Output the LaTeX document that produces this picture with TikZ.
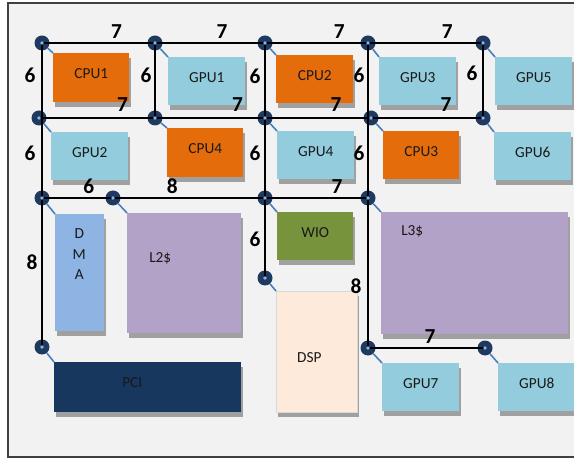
\documentclass[tikz,border=0pt]{standalone}
\usepackage{fontspec}
\setmainfont{Carlito}
\usetikzlibrary{positioning}

\newlength\pxu
\setlength\pxu{0.75pt}

\definecolor{cpuorange}{HTML}{E46C0A}
\definecolor{gpublue}{HTML}{93CDDD}
\definecolor{cachepurple}{HTML}{B3A2C7}
\definecolor{dmablue}{HTML}{8EB4E3}
\definecolor{wiogreen}{HTML}{77933C}
\definecolor{dspbeige}{HTML}{FDEADA}
\definecolor{pcinavy}{HTML}{17375E}
\definecolor{shadowgray}{HTML}{A0A0A0}
\definecolor{routernavy}{HTML}{1F3A60}
\definecolor{tickblue}{HTML}{4A7EBB}
\definecolor{dotblue}{HTML}{8DB4E2}
\definecolor{bggray}{HTML}{F2F2F2}
\definecolor{framegray}{HTML}{404040}

\begin{document}
\begin{tikzpicture}[
    x=0.75pt, y=-0.75pt,
    blk/.style={rectangle, fill=#1, anchor=north west, inner sep=0pt, text depth=8\pxu, text=black!90,
        font=\fontsize{11.5}{15.2}\selectfont,
        preaction={fill=shadowgray, transform canvas={shift={(2\pxu,-5\pxu)}}}},
    intxt/.style={font=\fontsize{11.5}{15.2}\selectfont, inner sep=0pt, text=black!90, align=center},
    router/.style={circle, fill=routernavy, minimum size=15\pxu, inner sep=0pt},
    link/.style={line width=2\pxu, black},
    tick/.style={line width=1.6\pxu, tickblue},
    wt/.style={font=\fontsize{16}{18}\selectfont\bfseries, inner sep=1.5\pxu, text=black}
]
    \path[use as bounding box, clip] (0,0) rectangle (574,459);
    \draw[line width=2\pxu, framegray, fill=bggray] (8,3) rectangle (600,457);

    % blocks
    \node[blk=cpuorange, minimum width=76\pxu, minimum height=49\pxu] (cpu1) at (53,53) {CPU1};
    \node[blk=gpublue, minimum width=77\pxu, minimum height=48\pxu] (gpu1) at (168,57) {GPU1};
    \node[blk=cpuorange, minimum width=77\pxu, minimum height=48\pxu] (cpu2) at (276,55) {CPU2};
    \node[blk=gpublue, minimum width=77\pxu, minimum height=48\pxu] (gpu3) at (379,57) {GPU3};
    \node[blk=gpublue, minimum width=77\pxu, minimum height=48\pxu] (gpu5) at (495,57) {GPU5};
    \node[blk=gpublue, minimum width=77\pxu, minimum height=48\pxu] (gpu2) at (51,132) {GPU2};
    \node[blk=cpuorange, minimum width=76\pxu, minimum height=49\pxu] (cpu4) at (167,128) {CPU4};
    \node[blk=gpublue, minimum width=77\pxu, minimum height=48\pxu] (gpu4) at (277,131) {GPU4};
    \node[blk=cpuorange, minimum width=76\pxu, minimum height=48\pxu] (cpu3) at (383,131) {CPU3};
    \node[blk=gpublue, minimum width=77\pxu, minimum height=48\pxu] (gpu6) at (494,132) {GPU6};
    \node[blk=dmablue, minimum width=49\pxu, minimum height=117\pxu,
        label={[intxt, xshift=-0.5\pxu, yshift=18.5\pxu]center:D\\M\\A}] (dma) at (55,214) {};
    \node[blk=cachepurple, minimum width=114\pxu, minimum height=120\pxu,
        label={[intxt, xshift=-24\pxu, yshift=15\pxu]center:L2\$}] (ltwo) at (127,213) {};
    \node[blk=wiogreen, minimum width=76\pxu, minimum height=48\pxu] (wio) at (277,212) {WIO};
    \node[blk=cachepurple, minimum width=187\pxu, minimum height=122\pxu,
        label={[intxt, xshift=-62.5\pxu, yshift=41.5\pxu]center:L3\$}] (lthree) at (381,212) {};
    \node[blk=dspbeige, draw=black!15, minimum width=81\pxu, minimum height=121\pxu,
        label={[intxt, xshift=-7.5\pxu, yshift=-5.5\pxu]center:DSP}] (dsp) at (276,291) {};
    \node[blk=pcinavy, minimum width=187\pxu, minimum height=50\pxu,
        label={[intxt, xshift=-15.5\pxu, yshift=5\pxu]center:PCI}] (pci) at (54,362) {};
    \node[blk=gpublue, minimum width=77\pxu, minimum height=48\pxu] (gpu7) at (382,363) {GPU7};
    \node[blk=gpublue, minimum width=77\pxu, minimum height=48\pxu] (gpu8) at (498,363) {GPU8};

    % routers
    \node[router] (r11) at (42,43) {};
    \node[router] (r12) at (155,43) {};
    \node[router] (r13) at (265,43) {};
    \node[router] (r14) at (368,43) {};
    \node[router] (r15) at (483,43) {};
    \node[router] (r21) at (39,118) {};
    \node[router] (r22) at (155,118) {};
    \node[router] (r23) at (265,118) {};
    \node[router] (r24) at (371,118) {};
    \node[router] (r25) at (483,118) {};
    \node[router] (r31) at (42,198) {};
    \node[router] (r32) at (113,198) {};
    \node[router] (r33) at (265,198) {};
    \node[router] (r34) at (368,198) {};
    \node[router] (r43) at (265,278) {};
    \node[router] (r41) at (42,347) {};
    \node[router] (r44) at (368,348) {};
    \node[router] (r45) at (485,348) {};

    % router to block
    \draw[tick] (r11) -- (cpu1.north west);
    \draw[tick] (r12) -- (gpu1.north west);
    \draw[tick] (r13) -- (cpu2.north west);
    \draw[tick] (r14) -- (gpu3.north west);
    \draw[tick] (r15) -- (gpu5.north west);
    \draw[tick] (r21) -- (gpu2.north west);
    \draw[tick] (r22) -- (cpu4.north west);
    \draw[tick] (r23) -- (gpu4.north west);
    \draw[tick] (r24) -- (cpu3.north west);
    \draw[tick] (r25) -- (gpu6.north west);
    \draw[tick] (r31) -- (dma.north west);
    \draw[tick] (r32) -- (ltwo.north west);
    \draw[tick] (r33) -- (wio.north west);
    \draw[tick] (r34) -- (lthree.north west);
    \draw[tick] (r43) -- (dsp.north west);
    \draw[tick] (r41) -- (pci.north west);
    \draw[tick] (r44) -- (gpu7.north west);
    \draw[tick] (r45) -- (gpu8.north west);

    % links with weights
    \draw[link] (r11.center) -- node[wt, above=2\pxu, pos=0.66] {7} (r12.center)
        -- node[wt, above=2\pxu, pos=0.61] {7} (r13.center)
        -- node[wt, above=2\pxu, pos=0.72] {7} (r14.center)
        -- node[wt, above=2\pxu, pos=0.69] {7} (r15.center);
    \draw[link] (r21.center) -- node[wt, above=4\pxu, pos=0.72] {7} (r22.center)
        -- node[wt, above=4\pxu, pos=0.75] {7} (r23.center)
        -- node[wt, above=4\pxu, pos=0.67] {7} (r24.center)
        -- node[wt, above=4\pxu, pos=0.67] {7} (r25.center);
    \draw[link] (r31.center) -- node[wt, above=2\pxu, pos=0.66] {6} (r32.center)
        -- node[wt, above=2\pxu, pos=0.39] {8} (r33.center)
        -- node[wt, above=2\pxu, pos=0.70] {7} (r34.center);
    \draw[link] (r44.center) -- node[wt, above=2\pxu, pos=0.53] {7} (r45.center);
    \draw[link] (r11.center) -- node[wt, left=4\pxu, pos=0.21] {6} node[wt, left=4\pxu, pos=0.71] {6} (r31.center)
        -- node[wt, left=2\pxu, pos=0.43] {8} (r41.center);
    \draw[link] (r12.center) -- node[wt, left=1\pxu, pos=0.43] {6} (r22.center);
    \draw[link] (r13.center) -- node[wt, left=2\pxu, pos=0.45] {6} (r23.center)
        -- node[wt, left=2\pxu, pos=0.44] {6} (r33.center)
        -- node[wt, left=2\pxu, pos=0.51] {6} (r43.center);
    \draw[link] (r14.center) -- node[wt, left=1\pxu, pos=0.21] {6} node[wt, left=1\pxu, pos=0.71] {6} (r34.center)
        -- node[wt, left=4\pxu, pos=0.59] {8} (r44.center);
    \draw[link] (r15.center) -- node[wt, left=3\pxu, pos=0.40] {6} (r25.center);

    \foreach \r in {r11,r12,r13,r14,r15,r21,r22,r23,r24,r25,r31,r32,r33,r34,r43,r41,r44,r45}
        \fill[dotblue] (\r) circle (1.8\pxu);
\end{tikzpicture}
\end{document}
